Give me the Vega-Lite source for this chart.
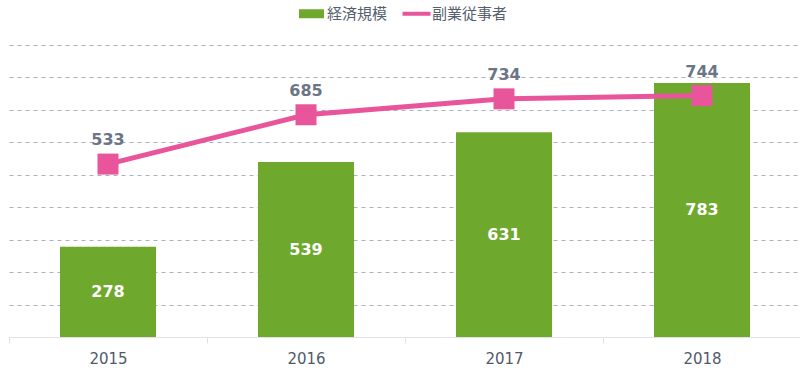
{
  "$schema": "https://vega.github.io/schema/vega-lite/v6.json",
  "width": 792,
  "height": 292,
  "padding": {"left": 8, "right": 0, "top": 6, "bottom": 0},
  "background": "white",
  "config": {
    "view": {"stroke": null},
    "font": "DejaVu Sans",
    "legend": {
      "orient": "none",
      "direction": "horizontal",
      "legendX": 295,
      "legendY": -39,
      "labelFont": "Noto Sans CJK JP",
      "labelFontSize": 15,
      "labelColor": "#555f6e",
      "columnPadding": 14,
      "labelOffset": 8,
      "symbolSize": 100
    },
    "axisY": {
      "title": null,
      "labels": false,
      "ticks": false,
      "domain": false,
      "labelOverlap": false,
      "values": [100, 200, 300, 400, 500, 600, 700, 800, 900],
      "gridColor": "#aab0c0",
      "gridDash": [4, 4],
      "gridWidth": 1
    }
  },
  "data": {
    "values": [
      {"year": "2015", "scale": 278, "side": 533},
      {"year": "2016", "scale": 539, "side": 685},
      {"year": "2017", "scale": 631, "side": 734},
      {"year": "2018", "scale": 783, "side": 744}
    ]
  },
  "encoding": {
    "x": {
      "field": "year",
      "type": "nominal",
      "scale": {"paddingInner": 0, "paddingOuter": 0},
      "axis": {
        "title": null,
        "labelAngle": 0,
        "tickBand": "extent",
        "domainColor": "#e2e2e6",
        "tickColor": "#e2e2e6",
        "tickSize": 6,
        "labelPadding": 8,
        "labelFontSize": 15,
        "labelColor": "#505a6b"
      }
    }
  },
  "layer": [
    {
      "mark": {"type": "bar", "width": {"band": 0.485}},
      "encoding": {
        "y": {
          "field": "scale",
          "type": "quantitative",
          "scale": {"domain": [0, 900], "nice": false},
          "axis": {"values": [100, 200, 300, 400, 500, 600, 700, 800, 900], "tickCount": 9}
        },
        "color": {
          "datum": "経済規模",
          "type": "nominal",
          "scale": {"domain": ["経済規模", "副業従事者"], "range": ["#6ea92e", "#e9559b"]},
          "legend": {
            "title": null,
            "encode": {
              "symbols": {
                "update": {
                  "shape": {"signal": "datum.value === '経済規模' ? 'M-2.5,-0.9H2.5V0.9H-2.5Z' : 'M-2.8,-0.4H2.8V0.4H-2.8Z'"},
                  "fill": {"scale": "color", "field": "value"},
                  "strokeWidth": {"value": 0},
                  "opacity": {"value": 1}
                }
              }
            }
          }
        }
      }
    },
    {
      "transform": [{"calculate": "datum.scale / 2", "as": "mid"}],
      "mark": {"type": "text", "color": "white", "fontWeight": "bold", "fontSize": 16, "baseline": "middle"},
      "encoding": {
        "y": {"field": "mid", "type": "quantitative"},
        "text": {"field": "scale", "type": "quantitative"}
      }
    },
    {
      "mark": {"type": "line", "strokeWidth": 5},
      "encoding": {
        "y": {"field": "side", "type": "quantitative"},
        "color": {"datum": "副業従事者", "type": "nominal"}
      }
    },
    {
      "mark": {"type": "point", "shape": "square", "filled": true, "opacity": 1, "size": 441},
      "encoding": {
        "y": {"field": "side", "type": "quantitative"},
        "color": {"datum": "副業従事者", "type": "nominal"}
      }
    },
    {
      "mark": {"type": "text", "color": "#6b7586", "fontWeight": "bold", "fontSize": 16, "baseline": "middle", "dy": -24},
      "encoding": {
        "y": {"field": "side", "type": "quantitative"},
        "text": {"field": "side", "type": "quantitative"}
      }
    }
  ]
}
